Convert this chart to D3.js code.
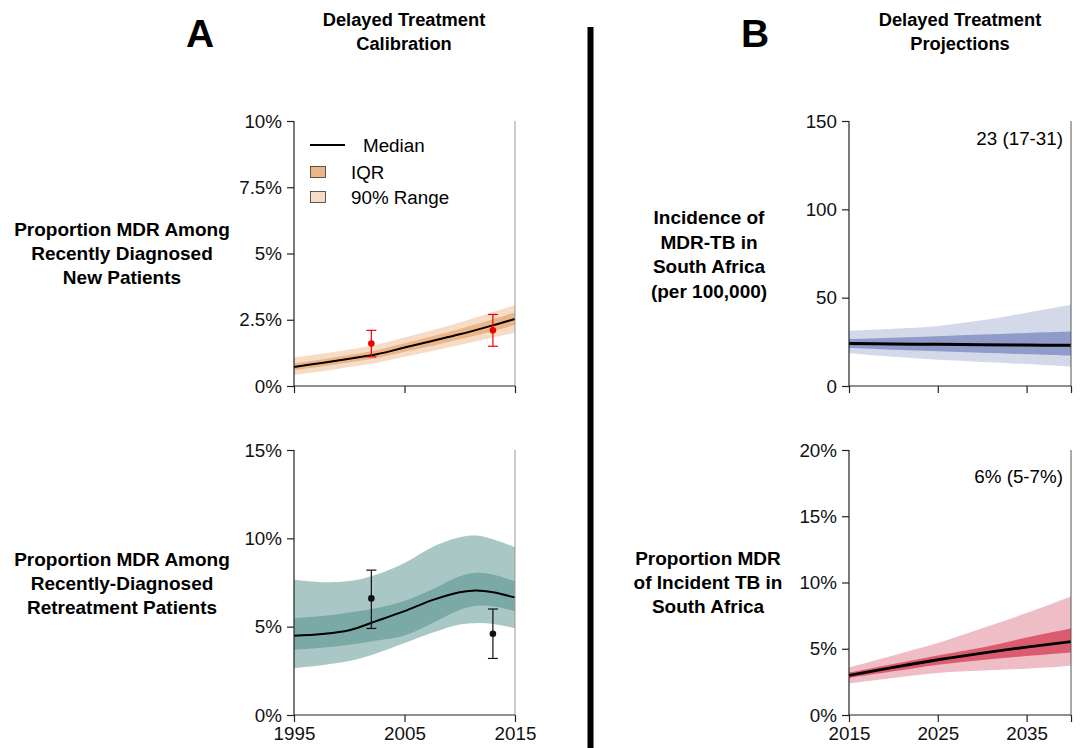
<!DOCTYPE html>
<html><head><meta charset="utf-8">
<script src="https://cdn.jsdelivr.net/npm/d3@7/dist/d3.min.js"></script>
<style>body{margin:0;background:#fff}svg{display:block;font-family:"Liberation Sans",Arial,sans-serif}</style>
</head><body><svg id="c" width="1080" height="748"></svg>
<script>
// ---- data ----
const yearsNew = [1995, 1997.5, 2000, 2002.5, 2005, 2007.5, 2010, 2012.5, 2015];
const newMedian = [0.72, 0.87, 1.03, 1.2, 1.45, 1.7, 1.95, 2.23, 2.53];
const newIqrLo = [0.6, 0.74, 0.9, 1.06, 1.29, 1.52, 1.76, 2.02, 2.3];
const newIqrHi = [0.85, 1.0, 1.17, 1.35, 1.61, 1.88, 2.15, 2.45, 2.78];
const new90Lo = [0.42, 0.56, 0.72, 0.88, 1.1, 1.32, 1.55, 1.78, 2.01];
const new90Hi = [1.08, 1.22, 1.38, 1.56, 1.83, 2.1, 2.4, 2.72, 3.05];
const newObsYears = [2002, 2013];
const newObs = [1.6, 2.1];
const newObsLo = [1.1, 1.5];
const newObsHi = [2.1, 2.7];

const yearsRet = [1995, 1997.5, 2000, 2002.5, 2005, 2007.5, 2010, 2011.5, 2013, 2015];
const retMedian = [4.48, 4.58, 4.8, 5.33, 5.88, 6.5, 6.95, 7.05, 6.95, 6.65];
const retIqrLo = [3.69, 3.8, 3.97, 4.22, 4.5, 5.2, 5.95, 6.18, 6.15, 5.86];
const retIqrHi = [5.48, 5.6, 5.8, 6.05, 6.45, 7.1, 7.85, 8.05, 7.95, 7.56];
const ret90Lo = [2.66, 2.82, 3.05, 3.5, 4.07, 4.65, 5.12, 5.2, 5.15, 4.92];
const ret90Hi = [7.65, 7.52, 7.58, 7.95, 8.6, 9.5, 10.06, 10.16, 9.95, 9.5];
const retObsYears = [2002, 2013];
const retObs = [6.6, 4.6];
const retObsLo = [4.9, 3.2];
const retObsHi = [8.2, 6.0];

const yearsProj = [2015, 2020, 2025, 2030, 2035, 2040];
const incMedian = [24, 23.8, 23.6, 23.4, 23.2, 23];
const incIqrLo = [21.5, 20.5, 19.7, 18.8, 18.0, 17.2];
const incIqrHi = [26.5, 27.3, 28.2, 29.1, 30.0, 30.8];
const inc90Lo = [18.5, 16.5, 14.8, 13.6, 12.4, 10.9];
const inc90Hi = [31.3, 32.4, 34.0, 37.2, 41.5, 46];

const propMedian = [2.99, 3.6, 4.17, 4.67, 5.13, 5.53];
const propIqrLo = [2.8, 3.3, 3.8, 4.15, 4.45, 4.72];
const propIqrHi = [3.2, 3.85, 4.5, 5.1, 5.85, 6.53];
const prop90Lo = [2.39, 2.8, 3.17, 3.35, 3.5, 3.72];
const prop90Hi = [3.6, 4.5, 5.43, 6.55, 7.69, 8.94];

const ticksA = [1995, 2005, 2015];
const ticksB = [2015, 2025, 2035, 2040];
const yTicksNew = [0, 2.5, 5, 7.5, 10];
const yTicksRet = [0, 5, 10, 15];
const yTicksInc = [0, 50, 100, 150];
const yTicksProp = [0, 5, 10, 15, 20];

const legendLabels = ["Median", "IQR", "90% Range"];

// ---- drawing ----
const svg = d3.select("#c");
const pct = d => (Number.isInteger(d) ? d : d.toFixed(1)) + "%";
const FS = 18.8;
const curve = d3.curveCatmullRom.alpha(0.5);

function panel(o) {
  const x = d3.scaleLinear().domain(o.xd).range([o.x0, o.x1]);
  const y = d3.scaleLinear().domain(o.yd).range([o.y1, o.y0]);
  const g = svg.append("g");
  const area = (lo, hi) => d3.area().curve(curve)
    .x((d, i) => x(o.years[i])).y0((d, i) => y(lo[i])).y1((d, i) => y(hi[i]));
  g.append("path").datum(o.years).attr("d", area(o.lo90, o.hi90)).attr("fill", o.c90);
  g.append("path").datum(o.years).attr("d", area(o.loIqr, o.hiIqr)).attr("fill", o.cIqr);
  g.append("path").datum(o.years)
    .attr("d", d3.line().curve(curve).x((d, i) => x(o.years[i])).y((d, i) => y(o.med[i])))
    .attr("fill", "none").attr("stroke", "#000").attr("stroke-width", o.lw || 2);
  g.append("line").attr("x1", o.x1).attr("x2", o.x1).attr("y1", o.y0).attr("y2", o.y1)
    .attr("stroke", o.frame).attr("stroke-width", 1);
  if (o.obs) {
    const e = g.append("g");
    o.obs.years.forEach((yr, i) => {
      const cx = x(yr);
      e.append("line").attr("x1", cx).attr("x2", cx).attr("y1", y(o.obs.lo[i])).attr("y2", y(o.obs.hi[i]))
        .attr("stroke", o.obs.color).attr("stroke-width", 1.2);
      [o.obs.lo[i], o.obs.hi[i]].forEach(v => e.append("line").attr("x1", cx - 5).attr("x2", cx + 5)
        .attr("y1", y(v)).attr("y2", y(v)).attr("stroke", o.obs.color).attr("stroke-width", 1.2));
      e.append("circle").attr("cx", cx).attr("cy", y(o.obs.v[i])).attr("r", 3.3).attr("fill", o.obs.color);
    });
  }
  const ax = g.append("g").attr("transform", `translate(0,${o.y1})`)
    .call(d3.axisBottom(x).tickValues(o.xt).tickSize(7).tickPadding(5)
      .tickFormat(d => o.xLabels && d !== 2040 ? d : ""));
  const ay = g.append("g").attr("transform", `translate(${o.x0},0)`)
    .call(d3.axisLeft(y).tickValues(o.yt).tickSize(7).tickPadding(5).tickFormat(o.yf));
  [ax, ay].forEach(a => {
    a.select(".domain").attr("stroke", "#222").attr("stroke-width", 1.2);
    a.selectAll(".tick line").attr("stroke", "#222").attr("stroke-width", 1.2);
    a.selectAll("text").attr("font-size", FS).attr("fill", "#111")
      .attr("font-family", "'Liberation Sans', Arial, sans-serif");
  });
  ax.select(".domain").attr("d", `M${o.x0},0H${o.x1}`);
  ay.select(".domain").attr("d", `M0,${o.y0}V${o.y1}`);
  return {x, y, g};
}

panel({x0: 294, x1: 515, y0: 121, y1: 386, xd: [1995, 2015], yd: [0, 10],
  years: yearsNew, med: newMedian, loIqr: newIqrLo, hiIqr: newIqrHi, lo90: new90Lo, hi90: new90Hi,
  c90: "#F6DBC5", cIqr: "#EBB587", frame: "#999", xt: ticksA, xLabels: false, yt: yTicksNew, yf: pct,
  obs: {years: newObsYears, v: newObs, lo: newObsLo, hi: newObsHi, color: "#F00000"}});
panel({x0: 294, x1: 515, y0: 450, y1: 715, xd: [1995, 2015], yd: [0, 15],
  years: yearsRet, med: retMedian, loIqr: retIqrLo, hiIqr: retIqrHi, lo90: ret90Lo, hi90: ret90Hi,
  c90: "#A9C7C4", cIqr: "#7BA9A5", frame: "#999", xt: ticksA, xLabels: true, yt: yTicksRet, yf: pct,
  obs: {years: retObsYears, v: retObs, lo: retObsLo, hi: retObsHi, color: "#111"}});
panel({x0: 849, x1: 1071, y0: 121, y1: 386, xd: [2015, 2040], yd: [0, 150],
  years: yearsProj, med: incMedian, loIqr: incIqrLo, hiIqr: incIqrHi, lo90: inc90Lo, hi90: inc90Hi,
  c90: "#D4D9EA", cIqr: "#8F9CC9", frame: "#555", xt: ticksB, xLabels: false, yt: yTicksInc, yf: d => d, lw: 3});
panel({x0: 849, x1: 1071, y0: 450, y1: 715, xd: [2015, 2040], yd: [0, 20],
  years: yearsProj, med: propMedian, loIqr: propIqrLo, hiIqr: propIqrHi, lo90: prop90Lo, hi90: prop90Hi,
  c90: "#EEBDC5", cIqr: "#DB5C6E", frame: "#555", xt: ticksB, xLabels: true, yt: yTicksProp, yf: pct, lw: 2.8});

svg.append("text").attr("x", 1063).attr("y", 145).attr("text-anchor", "end").attr("font-size", FS).text("23 (17-31)");
svg.append("text").attr("x", 1063).attr("y", 483).attr("text-anchor", "end").attr("font-size", FS).text("6% (5-7%)");

const lg = svg.append("g");
lg.append("line").attr("x1", 310).attr("x2", 345).attr("y1", 145).attr("y2", 145).attr("stroke", "#000").attr("stroke-width", 2);
lg.append("text").attr("x", 363).attr("y", 152).attr("font-size", FS).text(legendLabels[0]);
[["#EBB587", 172], ["#F6DBC5", 197]].forEach(([c, cy], i) => {
  lg.append("rect").attr("x", 310.5).attr("y", cy - 5.5).attr("width", 15).attr("height", 11)
    .attr("fill", c).attr("stroke", "#333").attr("stroke-width", 0.8);
  lg.append("text").attr("x", 351).attr("y", cy + 7).attr("font-size", FS).text(legendLabels[i + 1]);
});

function multiline(x, y, lines, size, weight, lh) {
  const t = svg.append("text").attr("text-anchor", "middle").attr("font-size", size).attr("font-weight", weight);
  lines.forEach((l, i) => t.append("tspan").attr("x", x).attr("y", y + i * lh).text(l));
}
svg.append("text").attr("x", 200).attr("y", 47).attr("text-anchor", "middle").attr("font-size", 39).attr("font-weight", "bold").text("A");
svg.append("text").attr("x", 755).attr("y", 47).attr("text-anchor", "middle").attr("font-size", 39).attr("font-weight", "bold").text("B");
multiline(404, 26, ["Delayed Treatment", "Calibration"], 18.3, "bold", 24);
multiline(960, 26, ["Delayed Treatment", "Projections"], 18.3, "bold", 24);
multiline(122, 236, ["Proportion MDR Among", "Recently Diagnosed", "New Patients"], 19, "bold", 24);
multiline(122, 566, ["Proportion MDR Among", "Recently-Diagnosed", "Retreatment Patients"], 19, "bold", 24);
multiline(709, 224, ["Incidence of", "MDR-TB in", "South Africa", "(per 100,000)"], 19, "bold", 24.5);
multiline(708, 565, ["Proportion MDR", "of Incident TB in", "South Africa"], 19, "bold", 24);

svg.append("line").attr("x1", 590.5).attr("x2", 590.5).attr("y1", 27).attr("y2", 748).attr("stroke", "#000").attr("stroke-width", 6);
</script></body></html>
